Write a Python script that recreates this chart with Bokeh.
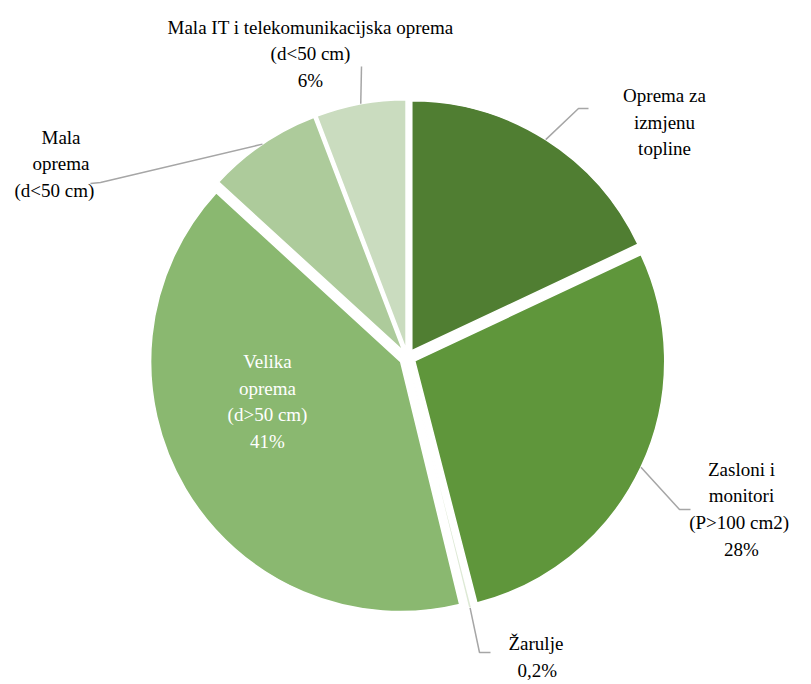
import numpy as np
from bokeh.plotting import figure
from bokeh.models import Range1d, ColumnDataSource, Label
from bokeh.core.properties import value
from bokeh.embed import file_html
from bokeh.resources import INLINE

# ---- data ----
categories = [
    "Oprema za izmjenu topline",
    "Zasloni i monitori (P>100 cm2)",
    "Žarulje",
    "Velika oprema (d>50 cm)",
    "Mala oprema (d<50 cm)",
    "Mala IT i telekomunikacijska oprema (d<50 cm)",
]
shares = [18.0, 28.0, 0.2, 40.6, 7.4, 5.8]
colors = ["#507E32", "#5F963B", "#DDE9D5", "#8AB870", "#ADCB9B", "#CADCBF"]
label_lines = [
    ["Oprema za", "izmjenu", "topline"],
    ["Zasloni i", "monitori", "(P>100  cm2)", "28%"],
    ["Žarulje", "0,2%"],
    ["Velika", "oprema", "(d>50 cm)", "41%"],
    ["Mala", "oprema", "(d<50 cm)"],
    ["Mala IT i telekomunikacijska oprema", "(d<50 cm)", "6%"],
]

# ---- layout (screen pixels, y downward) ----
W, H = 811, 684
CX, CY = 407, 357
R = 250
EXPLODE = 8
LINE_STEP = 26.7
HALF = 10
FONT = "Liberation Serif"
FS = "19px"
label_layout = [
    ((664, 95), (588, 108), (578, 108), "black"),
    ((741, 469), (690, 509), (679, 509), "black"),
    ((538, 643), (490, 652), (479, 652), "black"),
    ((267, 361), None, None, "white"),
    ((62, 137), (90, 183), (100, 182), "black"),
    ((310, 27), (361, 66), (361, 66), "black"),
]

def fy(y):
    return H - y

p = figure(width=W, height=H, x_range=Range1d(0, W), y_range=Range1d(0, H),
           output_backend="svg", toolbar_location=None, min_border=0,
           x_axis_type=None, y_axis_type=None)
p.grid.visible = False
p.outline_line_color = None

# label 0 drawn before the pie (center/middle/colour)
(tx, ty), _, _, _ = label_layout[0]
p.text(x=[tx] * 3, y=[fy(ty + k * LINE_STEP) for k in range(3)], text=label_lines[0],
       text_font=value(FONT), text_font_size=value(FS),
       text_align="center", text_baseline="middle", text_color="black")

vals = np.array(shares, dtype=float)
frac = vals / vals.sum()
ends = np.cumsum(frac) * 2 * np.pi
starts = ends - frac * 2 * np.pi
mids = (starts + ends) / 2
xs = CX + EXPLODE * np.sin(mids)
ys = fy(CY) + EXPLODE * np.cos(mids)

src = ColumnDataSource(dict(x=xs, y=ys, start=np.pi / 2 - ends, end=np.pi / 2 - starts,
                            color=colors))
p.wedge(x="x", y="y", radius=R, start_angle="start", end_angle="end",
        direction="anticlock", fill_color="color", line_color="white",
        line_width=1.5, source=src)

for i in range(len(label_lines)):
    (tx, ty), end_pt, elbow, _ = label_layout[i]
    if end_pt is not None:
        ax = float(xs[i] + R * np.sin(mids[i]))
        ay = float(ys[i] + R * np.cos(mids[i]))
        p.line(x=[end_pt[0], elbow[0], ax], y=[fy(end_pt[1]), fy(elbow[1]), ay],
               line_color="#A6A6A6", line_width=1.5)

# label 1: centre only
(tx, ty), _, _, _ = label_layout[1]
p.text(x=[tx] * 4, y=[fy(ty + k * LINE_STEP) - HALF for k in range(4)], text=label_lines[1],
       text_font=value(FONT), text_font_size=value(FS), text_align="center")

# label 2: middle baseline only (left aligned, approximate left edges)
p.text(x=[508, 517], y=[fy(643), fy(670)], text=label_lines[2],
       text_font=value(FONT), text_font_size=value(FS), text_baseline="middle")

# label 4: colour only (left aligned)
p.text(x=[41, 32, 14], y=[fy(137 + k * LINE_STEP) - HALF for k in range(3)], text=label_lines[4],
       text_font=value(FONT), text_font_size=value(FS), text_color="black")

# label 5: Label annotations, centre
(tx, ty), _, _, _ = label_layout[5]
for k, s in enumerate(label_lines[5]):
    p.add_layout(Label(x=tx, y=fy(ty + k * LINE_STEP) - HALF, text=s, text_font=FONT,
                       text_font_size=FS, text_align="center", text_color="black"))

# label 3: white, inside
(tx, ty), _, _, _ = label_layout[3]
p.text(x=[tx] * 4, y=[fy(ty + k * LINE_STEP) for k in range(4)], text=label_lines[3],
       text_font=value(FONT), text_font_size=value(FS),
       text_align="center", text_baseline="middle", text_color="white")

open("out.html", "w").write(file_html(p, INLINE))
